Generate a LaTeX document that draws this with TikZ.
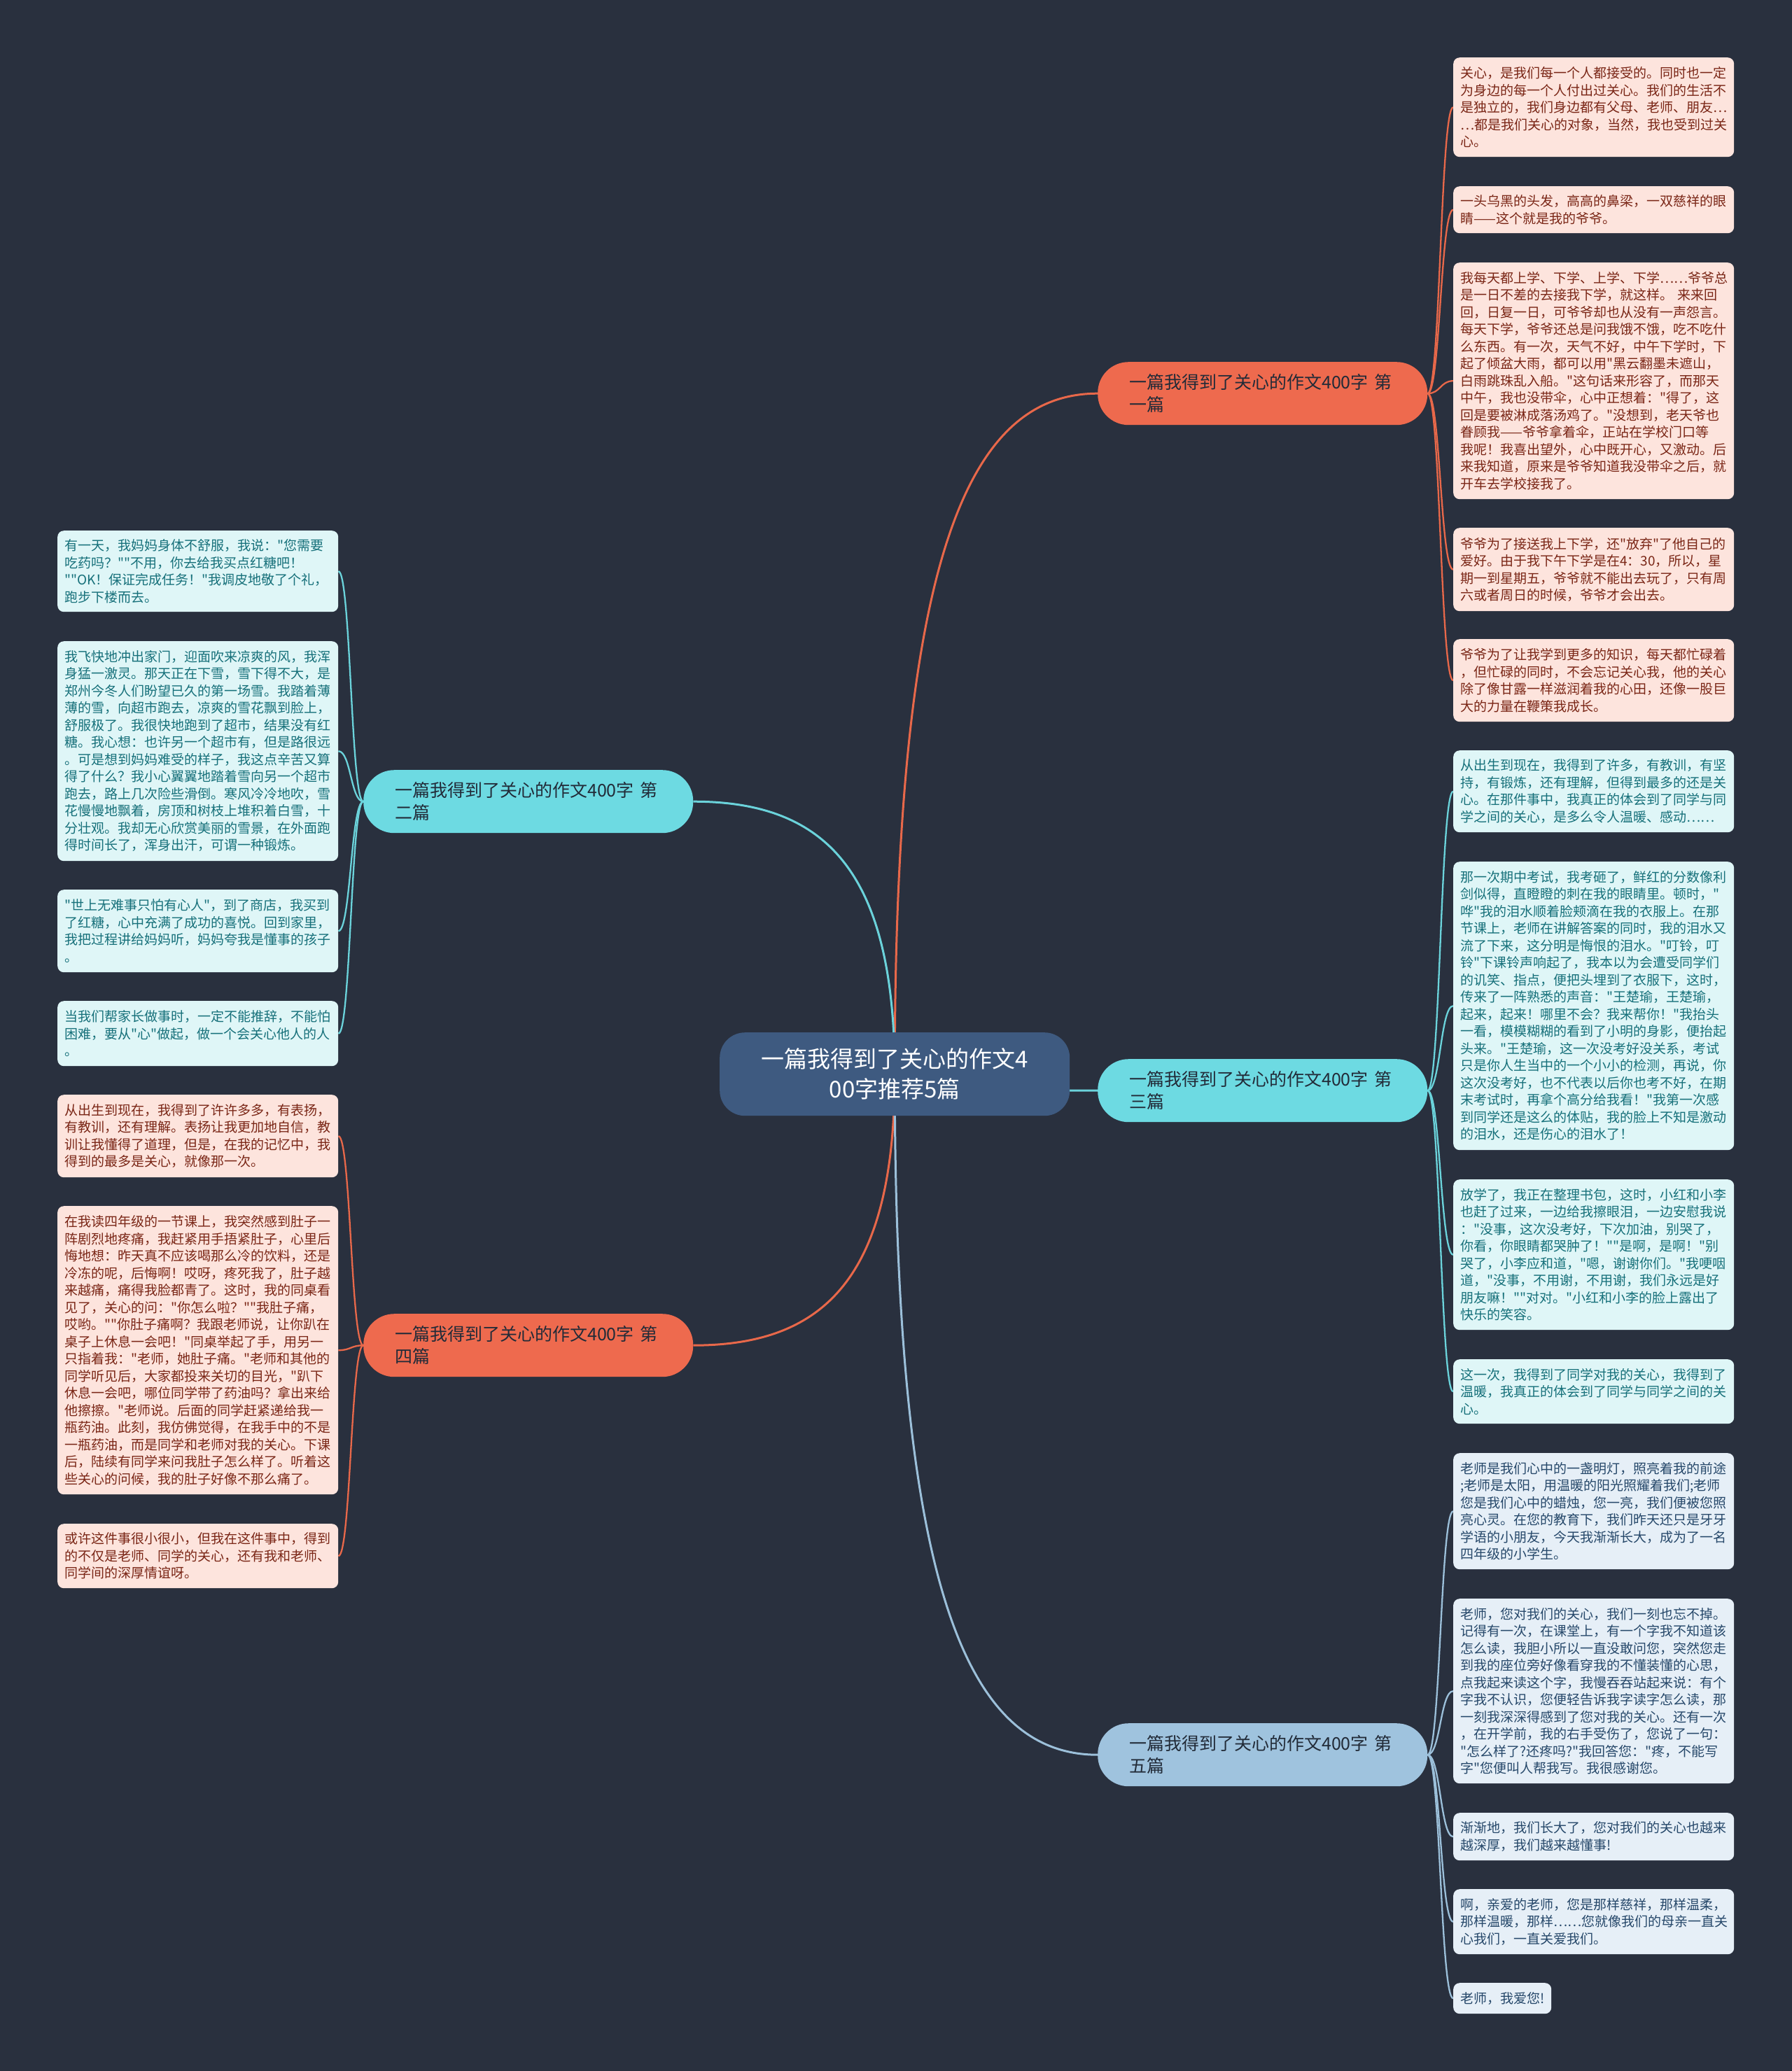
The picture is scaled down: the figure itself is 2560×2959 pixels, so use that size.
\documentclass[tikz,border=0pt]{standalone}
\usepackage{fontspec}
\newfontfamily\cjk{Noto Sans CJK SC}
\usetikzlibrary{calc}
\definecolor{bgc}{HTML}{29303E}
\definecolor{rootfill}{HTML}{3E5A80}
\definecolor{redbr}{HTML}{EE6A4E}
\definecolor{cyanbr}{HTML}{6DDAE2}
\definecolor{bluebr}{HTML}{9FC3DE}
\definecolor{brtext}{HTML}{222B38}
\definecolor{redln}{HTML}{E8684A}
\definecolor{cyanln}{HTML}{6BD3DB}
\definecolor{blueln}{HTML}{9CC0DA}
\definecolor{redlf}{HTML}{FDE4DD}
\definecolor{redlt}{HTML}{7A2616}
\definecolor{cyanlf}{HTML}{DFF6F7}
\definecolor{cyanlt}{HTML}{16707A}
\definecolor{bluelf}{HTML}{E6EFF7}
\definecolor{bluelt}{HTML}{26486A}
\pgfdeclarelayer{back}
\pgfdeclarelayer{lines}
\pgfsetlayers{back,lines,main}
\newcommand\ccon[2]{\draw[#1] (root.center) .. controls ($(root.center |- #2)!0.25!(root.center)$) and ($(root.center |- #2)!0.35!(#2)$) .. (#2);}
\newcommand\lcon[3]{\draw[#1] (#2) .. controls ($(#2)!0.5!(#2 -| #3)$) and ($(#3)!0.5!(#3 -| #2)$) .. (#3);}
\begin{document}
\begin{tikzpicture}[x=1pt,y=-1pt,
  leafbox/.style={anchor=north west, rounded corners=9pt, text width=381pt, inner xsep=10pt, inner ysep=3pt, align=left, font=\cjk\fontsize{19}{24.5}\selectfont},
  redleaf/.style={leafbox, fill=redlf, text=redlt},
  cyanleaf/.style={leafbox, fill=cyanlf, text=cyanlt},
  blueleaf/.style={leafbox, fill=bluelf, text=bluelt},
  branchbox/.style={anchor=north west, rounded corners=44pt, minimum height=90pt, text width=381pt, inner xsep=45pt, align=left, font=\cjk\fontsize{25}{32}\selectfont, text=brtext},
  rootbox/.style={anchor=north west, rounded corners=36pt, minimum height=119pt, minimum width=500pt, align=center, fill=rootfill, text=white, font=\cjk\fontsize{33}{43}\selectfont},
  rootln/.style={line width=3pt},
  leafln/.style={line width=2.3pt}]
\begin{pgfonlayer}{back}
\fill[bgc] (0,0) rectangle (2560,2959);
\end{pgfonlayer}
\useasboundingbox (0,0) rectangle (2560,2959);

\node[rootbox] (root) at (1028,1475) {一篇我得到了关心的作文4\\00字推荐5篇};

\node[branchbox, fill=redbr] (b1) at (1568,517) {一篇我得到了关心的作文400字 第\\一篇};
\node[branchbox, fill=cyanbr] (b2) at (519,1100) {一篇我得到了关心的作文400字 第\\二篇};
\node[branchbox, fill=cyanbr] (b3) at (1568,1513) {一篇我得到了关心的作文400字 第\\三篇};
\node[branchbox, fill=redbr] (b4) at (519,1877) {一篇我得到了关心的作文400字 第\\四篇};
\node[branchbox, fill=bluebr] (b5) at (1568,2462) {一篇我得到了关心的作文400字 第\\五篇};

% branch 1 leaves
\node[redleaf, minimum height=142pt] (r1) at (2076,82) {关心，是我们每一个人都接受的。同时也一定\\为身边的每一个人付出过关心。我们的生活不\\是独立的，我们身边都有父母、老师、朋友…\\…都是我们关心的对象，当然，我也受到过关\\心。};
\node[redleaf, minimum height=67pt] (r2) at (2076,266) {一头乌黑的头发，高高的鼻梁，一双慈祥的眼\\睛——这个就是我的爷爷。};
\node[redleaf, minimum height=338pt] (r3) at (2076,375) {我每天都上学、下学、上学、下学……爷爷总\\是一日不差的去接我下学，就这样。 来来回\\回，日复一日，可爷爷却也从没有一声怨言。\\每天下学，爷爷还总是问我饿不饿，吃不吃什\\么东西。有一次，天气不好，中午下学时，下\\起了倾盆大雨，都可以用"黑云翻墨未遮山，\\白雨跳珠乱入船。"这句话来形容了，而那天\\中午，我也没带伞，心中正想着："得了，这\\回是要被淋成落汤鸡了。"没想到，老天爷也\\眷顾我——爷爷拿着伞，正站在学校门口等\\我呢！我喜出望外，心中既开心，又激动。后\\来我知道，原来是爷爷知道我没带伞之后，就\\开车去学校接我了。};
\node[redleaf, minimum height=119pt] (r4) at (2076,754) {爷爷为了接送我上下学，还"放弃"了他自己的\\爱好。由于我下午下学是在4：30，所以，星\\期一到星期五，爷爷就不能出去玩了，只有周\\六或者周日的时候，爷爷才会出去。};
\node[redleaf, minimum height=118pt] (r5) at (2076,913) {爷爷为了让我学到更多的知识，每天都忙碌着\\，但忙碌的同时，不会忘记关心我，他的关心\\除了像甘露一样滋润着我的心田，还像一股巨\\大的力量在鞭策我成长。};

% branch 3 leaves
\node[cyanleaf, minimum height=117pt] (r6) at (2076,1072) {从出生到现在，我得到了许多，有教训，有坚\\持，有锻炼，还有理解，但得到最多的还是关\\心。在那件事中，我真正的体会到了同学与同\\学之间的关心，是多么令人温暖、感动……};
\node[cyanleaf, minimum height=412pt] (r7) at (2076,1231) {那一次期中考试，我考砸了，鲜红的分数像利\\剑似得，直瞪瞪的刺在我的眼睛里。顿时，"\\哗"我的泪水顺着脸颊滴在我的衣服上。在那\\节课上，老师在讲解答案的同时，我的泪水又\\流了下来，这分明是悔恨的泪水。"叮铃，叮\\铃"下课铃声响起了，我本以为会遭受同学们\\的讥笑、指点，便把头埋到了衣服下，这时，\\传来了一阵熟悉的声音："王楚瑜，王楚瑜，\\起来，起来！哪里不会？我来帮你！"我抬头\\一看，模模糊糊的看到了小明的身影，便抬起\\头来。"王楚瑜，这一次没考好没关系，考试\\只是你人生当中的一个小小的检测，再说，你\\这次没考好，也不代表以后你也考不好，在期\\末考试时，再拿个高分给我看！"我第一次感\\到同学还是这么的体贴，我的脸上不知是激动\\的泪水，还是伤心的泪水了！};
\node[cyanleaf, minimum height=215pt] (r8) at (2076,1685) {放学了，我正在整理书包，这时，小红和小李\\也赶了过来，一边给我擦眼泪，一边安慰我说\\："没事，这次没考好，下次加油，别哭了，\\你看，你眼睛都哭肿了！""是啊，是啊！"别\\哭了，小李应和道，"嗯，谢谢你们。"我哽咽\\道，"没事，不用谢，不用谢，我们永远是好\\朋友嘛！""对对。"小红和小李的脸上露出了\\快乐的笑容。};
\node[cyanleaf, minimum height=92pt] (r9) at (2076,1942) {这一次，我得到了同学对我的关心，我得到了\\温暖，我真正的体会到了同学与同学之间的关\\心。};

% branch 5 leaves
\node[blueleaf, minimum height=166pt] (r10) at (2076,2076) {老师是我们心中的一盏明灯，照亮着我的前途\\;老师是太阳，用温暖的阳光照耀着我们;老师\\您是我们心中的蜡烛，您一亮，我们便被您照\\亮心灵。在您的教育下，我们昨天还只是牙牙\\学语的小朋友，今天我渐渐长大，成为了一名\\四年级的小学生。};
\node[blueleaf, minimum height=264pt] (r11) at (2076,2284) {老师，您对我们的关心，我们一刻也忘不掉。\\记得有一次，在课堂上，有一个字我不知道该\\怎么读，我胆小所以一直没敢问您，突然您走\\到我的座位旁好像看穿我的不懂装懂的心思，\\点我起来读这个字，我慢吞吞站起来说：有个\\字我不认识，您便轻告诉我字读字怎么读，那\\一刻我深深得感到了您对我的关心。还有一次\\，在开学前，我的右手受伤了，您说了一句：\\"怎么样了?还疼吗?"我回答您："疼，不能写\\字"您便叫人帮我写。我很感谢您。};
\node[blueleaf, minimum height=68pt] (r12) at (2076,2590) {渐渐地，我们长大了，您对我们的关心也越来\\越深厚，我们越来越懂事!};
\node[blueleaf, minimum height=93pt] (r13) at (2076,2699) {啊，亲爱的老师，您是那样慈祥，那样温柔，\\那样温暖，那样……您就像我们的母亲一直关\\心我们，一直关爱我们。};
\node[blueleaf, minimum height=44pt, text width=120pt] (r14) at (2076,2833) {老师，我爱您!};

% branch 2 leaves
\node[cyanleaf, minimum height=116pt] (l1) at (82,758) {有一天，我妈妈身体不舒服，我说："您需要\\吃药吗？""不用，你去给我买点红糖吧！\\""OK！保证完成任务！"我调皮地敬了个礼，\\跑步下楼而去。};
\node[cyanleaf, minimum height=314pt] (l2) at (82,916) {我飞快地冲出家门，迎面吹来凉爽的风，我浑\\身猛一激灵。那天正在下雪，雪下得不大，是\\郑州今冬人们盼望已久的第一场雪。我踏着薄\\薄的雪，向超市跑去，凉爽的雪花飘到脸上，\\舒服极了。我很快地跑到了超市，结果没有红\\糖。我心想：也许另一个超市有，但是路很远\\。可是想到妈妈难受的样子，我这点辛苦又算\\得了什么？我小心翼翼地踏着雪向另一个超市\\跑去，路上几次险些滑倒。寒风冷冷地吹，雪\\花慢慢地飘着，房顶和树枝上堆积着白雪，十\\分壮观。我却无心欣赏美丽的雪景，在外面跑\\得时间长了，浑身出汗，可谓一种锻炼。};
\node[cyanleaf, minimum height=118pt] (l3) at (82,1271) {"世上无难事只怕有心人"，到了商店，我买到\\了红糖，心中充满了成功的喜悦。回到家里，\\我把过程讲给妈妈听，妈妈夸我是懂事的孩子\\。};
\node[cyanleaf, minimum height=93pt] (l4) at (82,1430) {当我们帮家长做事时，一定不能推辞，不能怕\\困难，要从"心"做起，做一个会关心他人的人\\。};

% branch 4 leaves
\node[redleaf, minimum height=118pt] (l5) at (82,1564) {从出生到现在，我得到了许许多多，有表扬，\\有教训，还有理解。表扬让我更加地自信，教\\训让我懂得了道理，但是，在我的记忆中，我\\得到的最多是关心，就像那一次。};
\node[redleaf, minimum height=412pt] (l6) at (82,1723) {在我读四年级的一节课上，我突然感到肚子一\\阵剧烈地疼痛，我赶紧用手捂紧肚子，心里后\\悔地想：昨天真不应该喝那么冷的饮料，还是\\冷冻的呢，后悔啊！哎呀，疼死我了，肚子越\\来越痛，痛得我脸都青了。这时，我的同桌看\\见了，关心的问："你怎么啦？""我肚子痛，\\哎哟。""你肚子痛啊？我跟老师说，让你趴在\\桌子上休息一会吧！"同桌举起了手，用另一\\只指着我："老师，她肚子痛。"老师和其他的\\同学听见后，大家都投来关切的目光，"趴下\\休息一会吧，哪位同学带了药油吗？拿出来给\\他擦擦。"老师说。后面的同学赶紧递给我一\\瓶药油。此刻，我仿佛觉得，在我手中的不是\\一瓶药油，而是同学和老师对我的关心。下课\\后，陆续有同学来问我肚子怎么样了。听着这\\些关心的问候，我的肚子好像不那么痛了。};
\node[redleaf, minimum height=92pt] (l7) at (82,2177) {或许这件事很小很小，但我在这件事中，得到\\的不仅是老师、同学的关心，还有我和老师、\\同学间的深厚情谊呀。};

\begin{pgfonlayer}{lines}
\ccon{rootln, redln}{b1.west}
\ccon{rootln, cyanln}{b2.east}
\ccon{rootln, cyanln}{b3.west}
\ccon{rootln, redln}{b4.east}
\ccon{rootln, blueln}{b5.west}
\lcon{leafln, redln}{b1.east}{r1.west}
\lcon{leafln, redln}{b1.east}{r2.west}
\lcon{leafln, redln}{b1.east}{r3.west}
\lcon{leafln, redln}{b1.east}{r4.west}
\lcon{leafln, redln}{b1.east}{r5.west}
\lcon{leafln, cyanln}{b3.east}{r6.west}
\lcon{leafln, cyanln}{b3.east}{r7.west}
\lcon{leafln, cyanln}{b3.east}{r8.west}
\lcon{leafln, cyanln}{b3.east}{r9.west}
\lcon{leafln, blueln}{b5.east}{r10.west}
\lcon{leafln, blueln}{b5.east}{r11.west}
\lcon{leafln, blueln}{b5.east}{r12.west}
\lcon{leafln, blueln}{b5.east}{r13.west}
\lcon{leafln, blueln}{b5.east}{r14.west}
\lcon{leafln, cyanln}{b2.west}{l1.east}
\lcon{leafln, cyanln}{b2.west}{l2.east}
\lcon{leafln, cyanln}{b2.west}{l3.east}
\lcon{leafln, cyanln}{b2.west}{l4.east}
\lcon{leafln, redln}{b4.west}{l5.east}
\lcon{leafln, redln}{b4.west}{l6.east}
\lcon{leafln, redln}{b4.west}{l7.east}
\end{pgfonlayer}
\end{tikzpicture}
\end{document}
